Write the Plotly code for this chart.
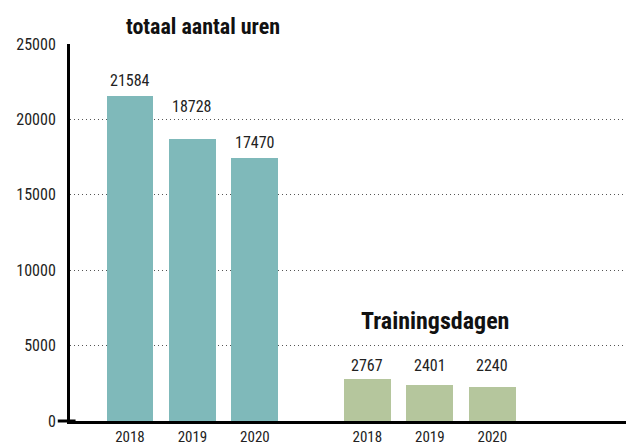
import plotly.graph_objects as go

years = ["2018", "2019", "2020"]
uren = [21584, 18728, 17470]
dagen = [2767, 2401, 2240]
y_ticks = [0, 5000, 10000, 15000, 20000, 25000]
title_uren = "totaal aantal uren"
title_dagen = "Trainingsdagen"

# layout helpers (positions on numeric x axis)
group_offset = [0.0, 3.8]
label_shift_uren = [9, 26, 9]
label_shift_dagen = [7, 12.5, 15]

FONT = "Roboto Condensed, Roboto, sans-serif"
TEAL = "#7fb9ba"
GREEN = "#b5c69d"

x_uren = [group_offset[0] + i for i in range(len(years))]
x_dagen = [group_offset[1] + i for i in range(len(years))]

fig = go.Figure()
fig.add_trace(go.Bar(x=x_uren, y=uren, width=0.75, marker=dict(color=TEAL, line=dict(width=0)),
                     hoverinfo="skip"))
fig.add_trace(go.Bar(x=x_dagen, y=dagen, width=0.75, marker=dict(color=GREEN, line=dict(width=0)),
                     hoverinfo="skip"))

anns = []
for xs, vals, shifts in [(x_uren, uren, label_shift_uren), (x_dagen, dagen, label_shift_dagen)]:
    for x, v, s in zip(xs, vals, shifts):
        anns.append(dict(x=x, y=v, text=str(v), showarrow=False, yanchor="bottom",
                         yshift=s - 5, font=dict(family=FONT, size=16, color="#222")))

anns.append(dict(x=(x_uren[0] + x_uren[-1]) / 2 + 0.17, y=1.0, yref="paper", text="<b>" + title_uren + "</b>",
                 showarrow=False, yanchor="bottom", yshift=3, font=dict(family=FONT, size=22, color="#111")))
anns.append(dict(x=(x_dagen[0] + x_dagen[-1]) / 2 + 0.08, y=6600, text="<b>" + title_dagen + "</b>",
                 showarrow=False, yanchor="middle", font=dict(family=FONT, size=24, color="#111")))

fig.update_layout(
    width=626, height=446,
    margin=dict(l=70, r=0, t=44, b=25, autoexpand=False),
    paper_bgcolor="white", plot_bgcolor="white",
    showlegend=False,
    annotations=anns,
    bargap=0,
    shapes=[dict(type="line", xref="paper", yref="paper", x0=-0.022, x1=0.01, y0=0, y1=0,
                 line=dict(color="black", width=3))],
)
fig.update_xaxes(
    range=[-0.96, 7.94], automargin=False,
    tickvals=x_uren + x_dagen, ticktext=years + years,
    showline=True, linecolor="black", linewidth=3,
    showgrid=False, zeroline=False, ticks="", ticklabelstandoff=0,
    tickfont=dict(family=FONT, size=15, color="#222"),
)
fig.update_yaxes(
    range=[0, 25000], automargin=False, tickvals=y_ticks, ticktext=[str(v) for v in y_ticks],
    showline=True, linecolor="black", linewidth=3,
    showgrid=True, gridcolor="#555", gridwidth=1, griddash="1px,3px",
    zeroline=False, ticks="", ticklabelstandoff=8,
    tickfont=dict(family=FONT, size=16, color="#222"),
)

fig.write_html("out.html", config={"displayModeBar": False},
               post_script="document.body.style.margin='0';document.body.style.overflow='hidden';")
